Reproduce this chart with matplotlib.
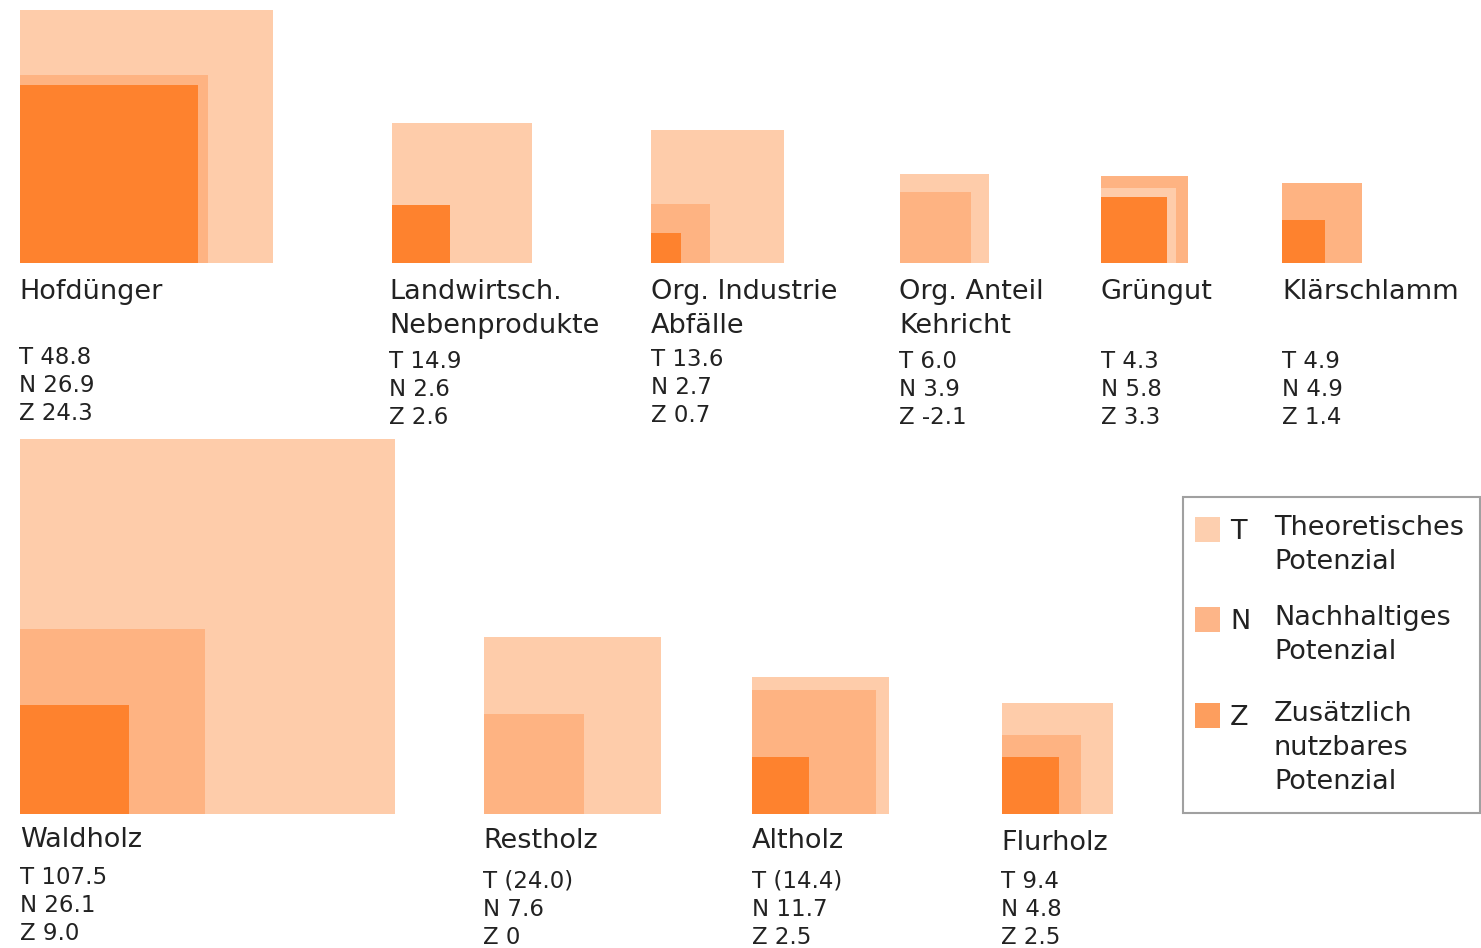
import numpy as np
import matplotlib
matplotlib.use("Agg")
import matplotlib.pyplot as plt
from matplotlib.patches import Rectangle

# potentials per resource (T = theoretisch, N = nachhaltig, Z = zusaetzlich nutzbar)
names = ["Hofdünger", "Landwirtsch.\nNebenprodukte", "Org. Industrie\nAbfälle",
         "Org. Anteil\nKehricht", "Grüngut", "Klärschlamm",
         "Waldholz", "Restholz", "Altholz", "Flurholz"]
t_vals = [48.8, 14.9, 13.6, 6.0, 4.3, 4.9, 107.5, 24.0, 14.4, 9.4]
n_vals = [26.9, 2.6, 2.7, 3.9, 5.8, 4.9, 26.1, 7.6, 11.7, 4.8]
z_vals = [24.3, 2.6, 0.7, -2.1, 3.3, 1.4, 9.0, 0, 2.5, 2.5]
t_text = ["48.8", "14.9", "13.6", "6.0", "4.3", "4.9", "107.5", "(24.0)", "(14.4)", "9.4"]
n_text = ["26.9", "2.6", "2.7", "3.9", "5.8", "4.9", "26.1", "7.6", "11.7", "4.8"]
z_text = ["24.3", "2.6", "0.7", "-2.1", "3.3", "1.4", "9.0", "0", "2.5", "2.5"]

# layout (pixel coords)
x_left = [20, 392, 651, 900, 1101, 1282, 20, 484, 752, 1002]
base_y = [263] * 6 + [814] * 4
name_y = [292] * 6 + [840, 841, 841, 843]
val_y = [358, 362, 360, 362, 362, 361, 878, 881, 881, 881]
text_dx = [-1, -3, 0, -1, 0, 0, 0, -1, 0, -1]

col_t = "#FECCAA"
col_n = "#FEB382"
col_z = "#FE822E"
k = 36.2  # px per sqrt(unit): area proportional to value

fig = plt.figure(figsize=(14.81, 9.48), dpi=100)
ax = fig.add_axes([0, 0, 1, 1])
ax.set_xlim(0, 1481)
ax.set_ylim(948, 0)
ax.axis("off")

txt = "#222222"
for i in range(len(names)):
    sq = [(t_vals[i], col_t), (n_vals[i], col_n), (z_vals[i], col_z)]
    sq = [s for s in sq if s[0] > 0]
    sq = sorted(sq, key=lambda s: -s[0])  # biggest behind
    for v, c in sq:
        side = k * np.sqrt(v)
        ax.add_patch(Rectangle((x_left[i], base_y[i] - side), side, side,
                               facecolor=c, edgecolor="none"))
    tx = x_left[i] + text_dx[i]
    for j, line in enumerate(names[i].split("\n")):
        ax.text(tx, name_y[i] + j * 34, line, fontsize=19.5, color=txt,
                ha="left", va="center")
    for j, (lab, s) in enumerate(zip("TNZ", [t_text[i], n_text[i], z_text[i]])):
        ax.text(tx, val_y[i] + j * 28, lab + " " + s, fontsize=16.5,
                color=txt, ha="left", va="center")

# legend box
ax.add_patch(Rectangle((1183, 497), 297, 316, facecolor="white",
                       edgecolor="#A0A0A0", linewidth=1.5))
leg = [("T", ["Theoretisches", "Potenzial"], "#FDCFAF", 529),
       ("N", ["Nachhaltiges", "Potenzial"], "#FDB588", 619),
       ("Z", ["Zusätzlich", "nutzbares", "Potenzial"], "#FD9E5E", 715)]
for lab, lines, c, y in leg:
    ax.add_patch(Rectangle((1195, y - 12), 25, 25, facecolor=c, edgecolor="none"))
    ax.text(1230, y + 3, lab, fontsize=19.5, color=txt, ha="left", va="center")
    for j, line in enumerate(lines):
        ax.text(1274, y - 1 + j * 34, line, fontsize=19.5, color=txt,
                ha="left", va="center")

fig.savefig("out.png", dpi=100, facecolor="white")
